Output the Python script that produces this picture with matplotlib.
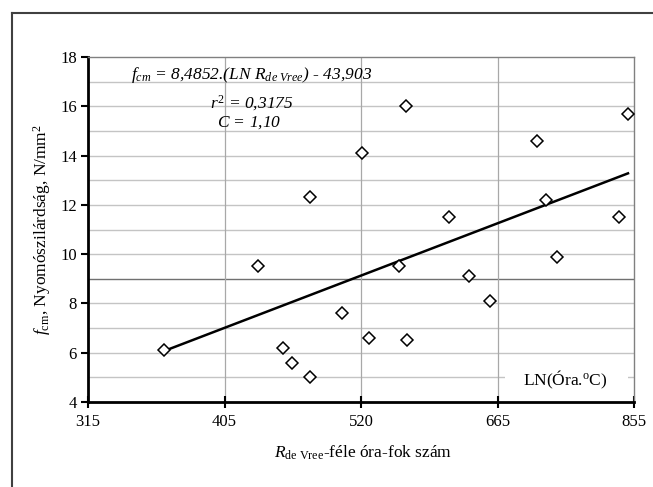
import numpy as np
import matplotlib
matplotlib.use("Agg")
import matplotlib.pyplot as plt
from matplotlib.lines import Line2D
from matplotlib.patches import Rectangle

# ---- data ----
ln_R = [5.889, 6.061, 6.107, 6.124, 6.157, 6.157, 6.215, 6.251, 6.264, 6.333,
        6.320, 6.335, 6.412, 6.448, 6.486, 6.572, 6.588, 6.609, 6.723, 6.739]
f_cm = [6.1, 9.5, 6.2, 5.6, 5.0, 12.3, 7.6, 14.1, 6.6, 16.0,
        9.5, 6.5, 11.5, 9.1, 8.1, 14.6, 12.2, 9.9, 11.5, 15.7]
slope = 8.4852
intercept = -43.903
x_tick_pos = [5.75, 6.0, 6.25, 6.5, 6.75]
x_tick_labels = ["315", "405", "520", "665", "855"]
y_ticks = [4, 6, 8, 10, 12, 14, 16, 18]

plt.rcParams['font.family'] = ['Liberation Serif', 'DejaVu Serif']
plt.rcParams['mathtext.fontset'] = 'custom'
plt.rcParams['mathtext.rm'] = 'Liberation Serif'
plt.rcParams['mathtext.it'] = 'Liberation Serif:italic'
plt.rcParams['mathtext.bf'] = 'Liberation Serif:bold'

W, H = 653, 487
fig = plt.figure(figsize=(W / 100, H / 100), dpi=100)

# outer frame
fig.add_artist(Line2D([12 / W, 12 / W], [0, 1 - 13 / H], transform=fig.transFigure,
                      color='#404040', lw=1.5))
fig.add_artist(Line2D([12 / W, 1], [1 - 13 / H, 1 - 13 / H], transform=fig.transFigure,
                      color='#404040', lw=1.5))

ax = fig.add_axes([88 / W, (H - 402) / H, 546 / W, 345 / H])
ax.set_xlim(5.75, 6.75)
ax.set_ylim(4, 18)

# grid
for yv in range(5, 18):
    col = '#707070' if yv == 9 else '#c4c4c4'
    ax.axhline(yv, color=col, lw=1.0, zorder=1)
for xv in x_tick_pos[1:-1]:
    ax.axvline(xv, color='#a8a8a8', lw=0.9, zorder=1)

# white label background
ax.add_patch(Rectangle((0.764, 0.02), 0.225, 0.1, transform=ax.transAxes,
                       facecolor='white', edgecolor='none', zorder=2))

# trend line
xl = np.array([min(ln_R), max(ln_R)])
ax.plot(xl, slope * xl + intercept, color='black', lw=1.8, zorder=3)

# points
ax.plot(ln_R, f_cm, linestyle='none', marker='D', markersize=6,
        markerfacecolor='white', markeredgecolor='black', markeredgewidth=1.1, zorder=4)

# spines
for s in ['left', 'bottom']:
    ax.spines[s].set_linewidth(2)
    ax.spines[s].set_color('black')
for s in ['top', 'right']:
    ax.spines[s].set_linewidth(1)
    ax.spines[s].set_color('#808080')

ax.set_yticks(y_ticks)
ax.set_xticks(x_tick_pos)
ax.set_xticklabels(x_tick_labels)
ax.tick_params(axis='y', direction='out', length=5, width=1.5, labelsize=12, pad=3)
ax.tick_params(axis='x', direction='inout', length=8, width=1.5, labelsize=12, pad=5)

# annotations
ax.text(6.05, 17.28, r"$f_{cm}$ = 8,4852.(LN $R_{de\ Vree}$) - 43,903", fontsize=12.5,
        style='italic', ha='center', va='center', zorder=5)
ax.text(6.05, 16.14, r"$r^2$ = 0,3175", fontsize=12.5, style='italic',
        ha='center', va='center', zorder=5)
ax.text(6.045, 15.33, r"$C$ = 1,10", fontsize=12.5, style='italic',
        ha='center', va='center', zorder=5)

ax.text(6.625, 4.9, r"LN(Óra.$^{\mathrm{o}}$C)", fontsize=12.5, ha='center', va='center',
        zorder=5)

fig.text(363 / W, 1 - 453 / H, r"$R_{\mathrm{de\ Vree}}$-féle óra-fok szám",
         fontsize=12.5, ha='center', va='center')
fig.text(42 / W, 1 - 230 / H, r"$f_{\mathrm{cm}}$, Nyomószilárdság, N/mm$^2$",
         fontsize=12.5, ha='center', va='center', rotation=90)

fig.savefig("out.png", dpi=100)
